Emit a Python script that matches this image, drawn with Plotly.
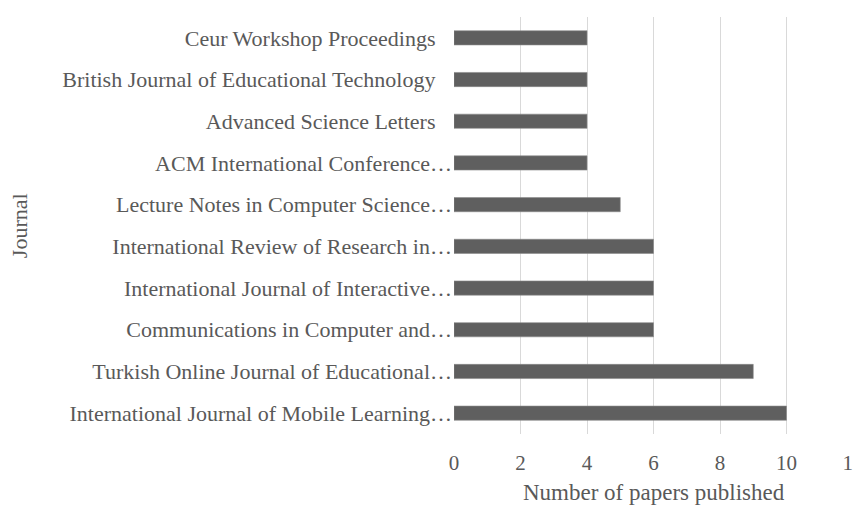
import plotly.graph_objects as go

journals = [
    "International Journal of Mobile Learning…",
    "Turkish Online Journal of Educational…",
    "Communications in Computer and…",
    "International Journal of Interactive…",
    "International Review of Research in…",
    "Lecture Notes in Computer Science…",
    "ACM International Conference…",
    "Advanced Science Letters",
    "British Journal of Educational Technology",
    "Ceur Workshop Proceedings",
]
papers = [10, 9, 6, 6, 6, 5, 4, 4, 4, 4]
x_ticks = [0, 2, 4, 6, 8, 10, 12]

FONT = "Liberation Serif"
GREY = "#595959"

# the page body adds an 8px offset; the figure is sized so the chart fills the 861x507 window
W, H = 853, 499
L, T, B = 446, 8.5, 73
X_MAX = 12.12
PX_PER_UNIT = (844.7 - L) / 12
R = W - L - X_MAX * PX_PER_UNIT
PW, PH = W - L - R, H - T - B

# full (untruncated) names sit a little further from the axis than the ellipsised ones
pad = "\u00a0\u00a0\u00a0"
tick_text = [j if j.endswith("…") else j + pad for j in journals]

fig = go.Figure(
    go.Bar(
        x=papers,
        y=journals,
        orientation="h",
        marker=dict(color="#5f5f5f", line=dict(color="#8a8a8a", width=0.6)),
        width=0.34,
    )
)

fig.update_layout(
    width=W,
    height=H,
    margin=dict(l=L, r=R, t=T, b=B, autoexpand=False),
    paper_bgcolor="white",
    plot_bgcolor="white",
    showlegend=False,
    font=dict(family=FONT, size=22, color=GREY),
    annotations=[
        dict(text="Journal", xref="paper", yref="paper", x=(12 - L) / PW, y=0.5,
             xanchor="center", yanchor="middle", textangle=-90, showarrow=False,
             font=dict(family=FONT, size=22, color=GREY)),
        dict(text="Number of papers published", xref="paper", yref="paper", x=0.5 * 12 / X_MAX,
             y=-(485 - (H - B)) / PH, xanchor="center", yanchor="middle", showarrow=False,
             font=dict(family=FONT, size=23, color=GREY)),
    ],
)
fig.update_xaxes(
    range=[0, X_MAX],
    tickvals=x_ticks,
    showgrid=True,
    gridcolor="#d9d9d9",
    gridwidth=1,
    zeroline=False,
    showline=False,
    ticks="",
    automargin=False,
    ticklabeloverflow="allow",
    ticklabelstandoff=14,
    tickfont=dict(family=FONT, size=21, color=GREY),
)
fig.update_yaxes(
    tickmode="array",
    tickvals=journals,
    ticktext=tick_text,
    showgrid=False,
    showline=False,
    ticks="",
    automargin=False,
    ticklabelstandoff=1,
    tickfont=dict(family=FONT, size=22, color=GREY),
)

fig.write_html("out.html")
